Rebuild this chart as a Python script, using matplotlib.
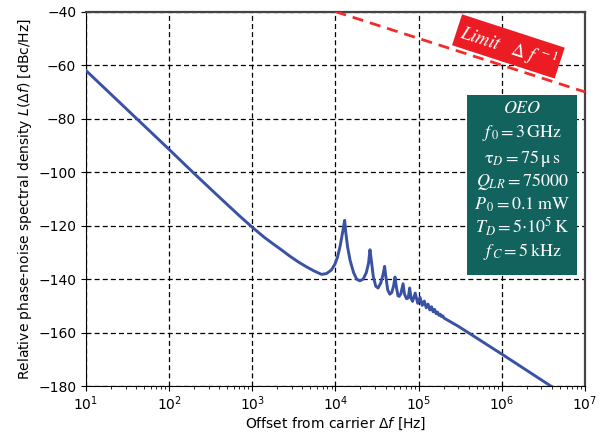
import numpy as np
import matplotlib
matplotlib.use('Agg')
import matplotlib.pyplot as plt
from matplotlib.patches import Rectangle

# phase-noise curve (offset in Hz, L in dBc/Hz)
offset_hz = [10, 100, 200, 400, 700, 1000, 1400, 1780, 2300, 2830, 3600, 4490, 5600,
             6800, 7800, 8900, 9800, 10600, 11400, 12100, 12500, 12900, 13300, 14000,
             15000, 16500, 18000, 19600, 21500, 23500, 25000, 26000, 27000, 28500,
             30500, 32500, 35000, 37500, 39000, 40500, 42500, 45000, 47500, 50000,
             52000, 54000, 56500, 58500, 61000, 65000, 67500, 71500, 75000, 78000,
             81000, 84500, 91000, 97500, 104000, 110500, 117000, 123500, 130000,
             136500, 143000, 149500, 156000, 162500, 169000, 175500, 182000, 188500,
             195000, 201500, 220000, 300000, 1e6, 4e6, 5e6]
phase_noise = [-62, -91.5, -100.5, -109.3, -116.3, -120.6, -124.4, -126.8, -129.3, -131.4,
               -133.6, -135.4, -137.0, -138.2, -137.9, -136.6, -134.5, -131.7, -127.5,
               -123, -120.5, -118, -122.5, -128, -133, -137.5, -140, -140.6, -140,
               -137.5, -134, -129, -133, -139, -142.6, -143.3, -141.5, -138, -135.2,
               -139.5, -144, -145.6, -145, -142.5, -139.2, -143, -146.2, -146.4, -145.5,
               -141.7, -145.5, -147.3, -147, -143.3, -147, -148.3, -145.2, -149.0,
               -146.8, -149.8, -148.2, -150.7, -149.3, -151.5, -150.3, -152.2, -151.3,
               -152.9, -152.3, -153.5, -153.1, -154.0, -153.7, -154.5, -155.2, -157.6,
               -168, -180.2, -182]

# Delta f^-1 limit line
limit_hz = [1e4, 1e7]
limit_db = [-40, -70]

params = [r"$\mathit{OEO}$",
          r"$f_{\,0}=3\,\mathrm{GHz}$",
          r"$\mathrm{\tau}_D=75\,\mathrm{\mu\,s}$",
          r"$Q_{LR}=75000$",
          r"$P_{\,0}=0.1\;\mathrm{mW}$",
          r"$T_D=5{\cdot}10^5\,\mathrm{K}$",
          r"$f_{\,C}=5\,\mathrm{kHz}$"]

fig = plt.figure(figsize=(6.08, 4.32), dpi=100)
ax = fig.add_axes([0.1414, 0.106, 0.8207, 0.867])

ax.plot(offset_hz, phase_noise, color='#3a52a3', lw=2.1, zorder=3)
ax.plot(limit_hz, limit_db, color='#f52a2a', lw=2, dashes=(4, 2.5), zorder=3)

ax.set_xscale('log')
ax.set_xlim(10, 1e7)
ax.set_ylim(-180, -40)
ax.set_yticks(np.arange(-180, -39, 20))
ax.grid(True, which='major', color='black', linestyle=(0, (4, 2.5)), lw=0.9)
ax.tick_params(labelsize=10)
ax.tick_params(axis='x', pad=2.5)

ax.set_xlabel(r"Offset from carrier $\Delta f$ [Hz]", fontsize=10, labelpad=1.5)
ax.set_ylabel(r"Relative phase-noise spectral density $L(\Delta f)$ [dBc/Hz]", fontsize=10,
              labelpad=3)

for s in ['top', 'right']:
    ax.spines[s].set_color('#444444')
    ax.spines[s].set_linewidth(1.6)

# red "Limit" label
ax.text(1.2e6, -53, r"$\mathit{Limit}\ \ \ \Delta\ f^{\,-1}$", color='white', fontsize=13.5,
        rotation=-18, ha='center', va='center', math_fontfamily='stix', zorder=5,
        bbox=dict(boxstyle='square,pad=0.2', facecolor='#ec1c24', edgecolor='none'))

# parameter box
ax.add_patch(Rectangle((0.7635, 0.2964), 0.2204, 0.4806, transform=ax.transAxes,
                       facecolor='#12625e', edgecolor='none', zorder=4))
line_y = [108.3, 133.3, 158.3, 181.7, 205, 226.7, 251.7]
for txt, yp in zip(params, line_y):
    ax.text(0.874, 1 - (yp - 11.5) / 374.5, txt, transform=ax.transAxes, color='white',
            fontsize=13, ha='center', va='center', math_fontfamily='stix', zorder=5)

fig.savefig('out.png', dpi=100)
